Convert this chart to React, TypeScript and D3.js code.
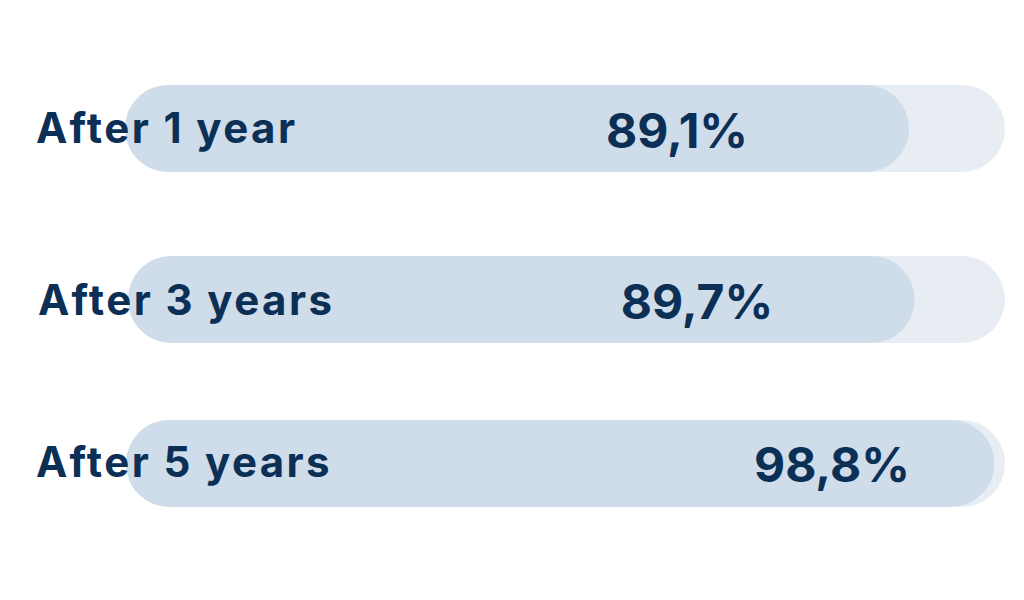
import React from "react";
import * as d3 from "d3";

const categories = ["After 1 year", "After 3 years", "After 5 years"];
const values = [89.1, 89.7, 98.8];
const valueLabels = ["89,1%", "89,7%", "98,8%"];

// layout (not data)
const W = 1024;
const H = 600;
const trackLeft = [125, 128, 126];
const trackRight = 1005;
const rowTop = [85, 256, 420];
const barH = 87;
const labelX = [36, 38, 36];
const labelBase = [143, 315, 477];
const valueCx = [677, 697, 832];
const valueBase = [148, 319, 482];

const TEXT = "#0c2f55";
const BAR = "#cfdcea";
const TRACK = "#e7edf3";

function roundedRect(x0: number, x1: number, y: number, h: number) {
  const r = h / 2;
  const p = d3.path();
  p.moveTo(x0 + r, y);
  p.lineTo(x1 - r, y);
  p.arc(x1 - r, y + r, r, -Math.PI / 2, Math.PI / 2);
  p.lineTo(x0 + r, y + h);
  p.arc(x0 + r, y + r, r, Math.PI / 2, (3 * Math.PI) / 2);
  p.closePath();
  return p.toString();
}

export default function App() {
  return (
    <svg
      width={W}
      height={H}
      style={{ position: "absolute", left: 0, top: 0, background: "#fff" }}
      fontFamily="Inter, 'Noto Sans', sans-serif"
    >
      {categories.map((c, i) => {
        const x = d3.scaleLinear().domain([0, 100]).range([trackLeft[i], trackRight]);
        return (
          <g key={c}>
            <path d={roundedRect(x(0), x(100), rowTop[i], barH)} fill={TRACK} />
            <path d={roundedRect(x(0), x(values[i]), rowTop[i], barH)} fill={BAR} />
            <text
              x={labelX[i]}
              y={labelBase[i]}
              fontSize={42}
              fontWeight={650}
              fill={TEXT}
              letterSpacing={2.4}
            >
              {c}
            </text>
            <text
              x={valueCx[i]}
              y={valueBase[i]}
              fontSize={48}
              fontWeight={700}
              fill={TEXT}
              textAnchor="middle"
            >
              {valueLabels[i]}
            </text>
          </g>
        );
      })}
    </svg>
  );
}
